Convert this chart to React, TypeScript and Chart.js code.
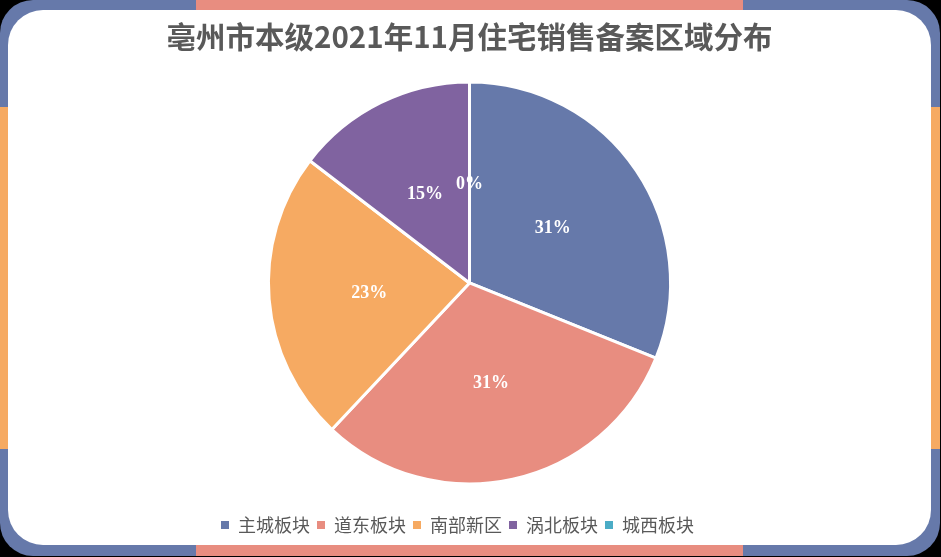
import { useEffect, useRef } from 'react';
import Chart from 'chart.js/auto';

const categories = ['主城板块', '道东板块', '南部新区', '涡北板块', '城西板块'];
const shares = [31.1, 30.9, 23.4, 14.6, 0];
const colors = ['#6679AA', '#E88D80', '#F6AA62', '#8063A0', '#4BACC6'];
const title = '亳州市本级2021年11月住宅销售备案区域分布';

const cjk = '"Microsoft YaHei", "Noto Sans CJK SC", sans-serif';

const pieLabels = {
  id: 'pieLabels',
  afterDatasetsDraw(chart: any) {
    const { ctx } = chart;
    const meta = chart.getDatasetMeta(0);
    const data = chart.data.datasets[0].data as number[];
    const total = data.reduce((a, b) => a + b, 0);
    ctx.save();
    ctx.fillStyle = '#ffffff';
    ctx.font = 'bold 18px "Times New Roman", "Liberation Serif", serif';
    ctx.textAlign = 'center';
    ctx.textBaseline = 'middle';
    meta.data.forEach((arc: any, i: number) => {
      const p = arc.tooltipPosition();
      ctx.fillText(Math.round((data[i] / total) * 100) + '%', p.x, p.y + 2);
    });
    ctx.restore();
  },
};

// the legend row sits a little left of centre in the original
const nudgeLegend = {
  id: 'nudgeLegend',
  afterLayout(chart: any) {
    if (chart.legend) {
      chart.legend.left -= 12;
      chart.legend.right -= 12;
    }
  },
};

export default function App() {
  const chartRef = useRef<HTMLCanvasElement>(null);
  const chartInstance = useRef<Chart<'pie', number[], string> | null>(null);

  useEffect(() => {
    if (!chartRef.current) return;
    const ctx = chartRef.current.getContext('2d');
    if (!ctx) return;
    if (chartInstance.current) chartInstance.current.destroy();

    chartInstance.current = new Chart(ctx, {
      type: 'pie',
      data: {
        labels: categories,
        datasets: [{
          data: shares,
          backgroundColor: colors,
          borderColor: '#ffffff',
          borderWidth: 3,
          hoverOffset: 0,
        }],
      },
      options: {
        animation: false,
        responsive: false,
        layout: { padding: { bottom: 1 } },
        plugins: {
          title: {
            display: true,
            text: title,
            color: '#595959',
            font: { family: cjk, size: 29.5, weight: 'bold', lineHeight: 1.2 },
            padding: { top: 9, bottom: 26 },
          },
          legend: {
            position: 'bottom',
            title: {
              display: true,
              text: '',
              font: { size: 10, lineHeight: 1.2 },
              padding: { top: 11.5, bottom: 0 },
            },
            labels: {
              boxWidth: 8,
              boxHeight: 8,
              padding: 7,
              color: '#595959',
              font: { family: cjk, size: 18 },
              generateLabels: (chart) =>
                Chart.overrides.pie.plugins.legend.labels
                  .generateLabels(chart)
                  .map((l: any) => ({ ...l, lineWidth: 0 })),
            },
          },
          tooltip: { enabled: false },
        },
      },
      plugins: [pieLabels, nudgeLegend],
    });

    return () => {
      if (chartInstance.current) {
        chartInstance.current.destroy();
        chartInstance.current = null;
      }
    };
  }, []);

  return (
    <div style={{ position: 'fixed', left: 0, top: 0, width: 941, height: 557, background: '#000' }}>
      <div style={{ position: 'absolute', left: 0, top: 0, width: 940, height: 556, borderRadius: 33, overflow: 'hidden', background: '#6679AA' }}>
        <div style={{ position: 'absolute', left: 196, top: 0, width: 547, height: 12, background: '#E88D80' }} />
        <div style={{ position: 'absolute', left: 196, top: 544, width: 547, height: 12, background: '#E88D80' }} />
        <div style={{ position: 'absolute', left: 0, top: 107, width: 10, height: 342, background: '#F6AA62' }} />
        <div style={{ position: 'absolute', right: 0, top: 107, width: 10, height: 342, background: '#F6AA62' }} />
        <div style={{ position: 'absolute', left: 8, top: 10, width: 923, height: 535, borderRadius: 35, background: '#fff' }}>
          <canvas ref={chartRef} width={923} height={535} style={{ display: 'block' }} />
        </div>
      </div>
    </div>
  );
}
